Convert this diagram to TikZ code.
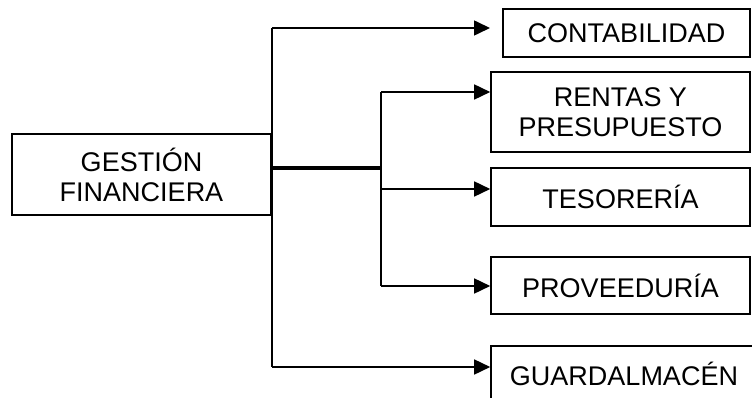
\documentclass[tikz,border=0pt]{standalone}
\usepackage{fontspec}
\setmainfont{Liberation Sans}
\usetikzlibrary{arrows.meta}
\begin{document}
\begin{tikzpicture}[x=1pt,y=-1pt,
  box/.style={draw,line width=1.6pt,inner sep=0pt,align=center,
    font=\fontsize{27}{30}\selectfont},
  link/.style={line width=1.6pt},
  arr/.style={link,-{Triangle[length=16pt,width=15pt]}},
  thickline/.style={line width=3.4pt}]
\clip (0,0) rectangle (752,398);
\fill[white] (0,0) rectangle (752,398);

% boxes
\node[box,minimum width=259pt,minimum height=81pt] (gf) at (141.5,174.5) {GESTIÓN\\FINANCIERA};
\node[box,minimum width=247pt,minimum height=48pt] (cont) at (626.5,33) {CONTABILIDAD};
\node[box,minimum width=259pt,minimum height=80pt] (rent) at (620.5,112) {RENTAS Y\\PRESUPUESTO};
\node[box,minimum width=259pt,minimum height=58pt] (teso) at (620.5,197) {TESORERÍA};
\node[box,minimum width=259pt,minimum height=57pt] (prov) at (620.5,285.5) {PROVEEDURÍA};
\node[box,minimum width=266pt,minimum height=56pt] (guard) at (624,374) {GUARDALMACÉN};

% branch points
\coordinate (t1) at (272,28);
\coordinate (t2) at (272,367);
\coordinate (j1) at (272,168);
\coordinate (j2) at (381,168);
\coordinate (s1) at (381,92);
\coordinate (s2) at (381,286);
\coordinate (s3) at (381,189);
\coordinate (ctip) at (490,28);

% trunks
\draw[link] (t1) -- (t2);
\draw[link] (s1) -- (s2);
\draw[thickline] (j1) -- (j2);

% arrows
\draw[arr] (t1) -- (ctip);
\draw[arr] (s1) -- (s1 -| rent.west);
\draw[arr] (s3) -- (s3 -| teso.west);
\draw[arr] (s2) -- (s2 -| prov.west);
\draw[arr] (t2) -- (t2 -| guard.west);
\end{tikzpicture}
\end{document}
